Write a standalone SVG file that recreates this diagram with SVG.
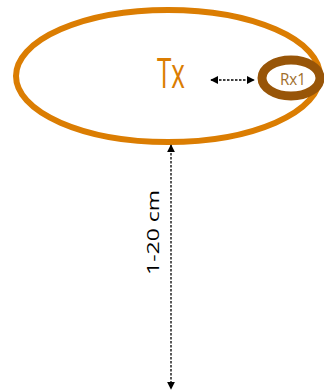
<svg xmlns="http://www.w3.org/2000/svg" width="324" height="392" viewBox="0 0 324 392">
  <style>
    .coil-tx { fill: none; stroke: #DB7D02; stroke-width: 6; }
    .coil-rx { fill: none; stroke: #985508; stroke-width: 9; }
    .dim { fill: none; stroke: #000; stroke-width: 1.3; stroke-dasharray: 2.5 1.5; }
    .lbl { font-family: "Open Sans", "Liberation Sans", sans-serif; }
  </style>
  <defs>
    <marker id="head" viewBox="0 0 10 10" refX="9" refY="5" markerWidth="8" markerHeight="8" markerUnits="userSpaceOnUse" orient="auto-start-reverse">
      <path d="M0,0 L10,5 L0,10 Z" fill="#000"/>
    </marker>
  </defs>

  <!-- transmitter coil -->
  <g id="tx">
    <ellipse class="coil-tx" cx="168" cy="76" rx="152" ry="66"/>
    <text class="lbl" x="157" y="88" font-size="42" fill="#DB7D02" textLength="28" lengthAdjust="spacingAndGlyphs">Tx</text>
  </g>

  <!-- receiver coil -->
  <g id="rx1">
    <ellipse class="coil-rx" cx="291" cy="78" rx="29" ry="18"/>
    <text class="lbl" x="280" y="85" font-size="17" fill="#A06E2C" textLength="26" lengthAdjust="spacingAndGlyphs">Rx1</text>
  </g>

  <g id="connectors">
    <line class="dim" x1="211" y1="80" x2="254" y2="80" marker-start="url(#head)" marker-end="url(#head)"/>
    <line class="dim" x1="171" y1="145" x2="171" y2="389" marker-start="url(#head)" marker-end="url(#head)"/>
  </g>

  <g id="distance-label">
    <text class="lbl" transform="translate(159,275) rotate(-90)" font-size="17" fill="#000" textLength="85" lengthAdjust="spacingAndGlyphs">1-20 cm</text>
  </g>
</svg>
